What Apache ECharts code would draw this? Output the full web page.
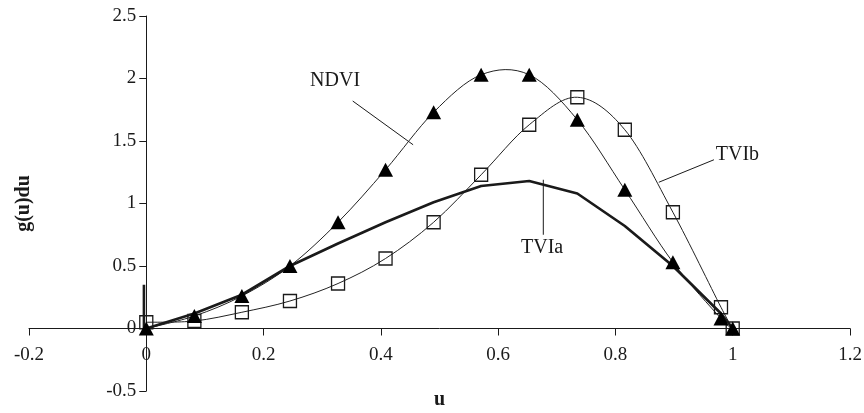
<!DOCTYPE html>
<html>
<head>
<meta charset="utf-8">
<script src="https://cdn.jsdelivr.net/npm/echarts@6/dist/echarts.min.js"></script>
<style>
  html, body { margin: 0; padding: 0; background: #fff; }
  #chart { width: 864px; height: 413px; }
</style>
</head>
<body>
<div id="chart"></div>
<script>
// u positions of the sample points
const uValues = [0, 0.082, 0.163, 0.245, 0.327, 0.408, 0.49, 0.571, 0.653, 0.735, 0.816, 0.898, 0.98, 1.0]

// g(u)du per index
const ndvi = [0, 0.1, 0.26, 0.5, 0.85, 1.27, 1.73, 2.03, 2.03, 1.67, 1.11, 0.53, 0.08, 0]
const tviB = [0.05, 0.06, 0.13, 0.22, 0.36, 0.56, 0.85, 1.23, 1.63, 1.85, 1.59, 0.93, 0.17, 0]
const tviA = [0, 0.12, 0.27, 0.5, 0.68, 0.85, 1.01, 1.14, 1.18, 1.08, 0.82, 0.5, 0.12, 0]
// short vertical stroke drawn at u = 0
const tviAStartU = [-0.004, -0.004]
const tviAStartV = [0.35, 0]

const xTicks = [-0.2, 0, 0.2, 0.4, 0.6, 0.8, 1, 1.2]
const yTicks = [-0.5, 0, 0.5, 1, 1.5, 2, 2.5]

const pair = (xs, ys) => xs.map((x, i) => [x, ys[i]])

const font = 'Liberation Serif, Times New Roman, serif'
const ink = '#1a1a1a'

// grid box; the axes cross at (0, 0) inside it
const gridLeft = 29, gridRight = 14, gridTop = 16, gridBottom = 22
const W = 864, H = 413
const xSpan = xTicks[xTicks.length - 1] - xTicks[0]
const ySpan = yTicks[yTicks.length - 1] - yTicks[0]
const yAxisShift = -(0 - xTicks[0]) / xSpan * (W - gridLeft - gridRight)
const xAxisShift = -(0 - yTicks[0]) / ySpan * (H - gridTop - gridBottom)

// excel-like smoothed curve: one cubic segment per point, catmull-rom control points
const smoothCurve = (xs, ys, color) => ({
  type: 'custom',
  data: pair(xs, ys),
  silent: true,
  z: 2,
  renderItem: (params, api) => {
    const i = params.dataIndex
    const n = xs.length
    if (i >= n - 1) return null
    const pt = k => {
      const j = Math.max(0, Math.min(n - 1, k))
      return api.coord([xs[j], ys[j]])
    }
    const p0 = pt(i - 1), p1 = pt(i), p2 = pt(i + 1), p3 = pt(i + 2)
    const t = 1 / 6
    return {
      type: 'bezierCurve',
      shape: {
        x1: p1[0], y1: p1[1], x2: p2[0], y2: p2[1],
        cpx1: p1[0] + (p2[0] - p0[0]) * t, cpy1: p1[1] + (p2[1] - p0[1]) * t,
        cpx2: p2[0] - (p3[0] - p1[0]) * t, cpy2: p2[1] - (p3[1] - p1[1]) * t
      },
      style: { stroke: color, lineWidth: 1, fill: null }
    }
  }
})

const chart = echarts.init(document.getElementById('chart'))

const option = {
  animation: false,
  grid: { left: gridLeft, right: gridRight, top: gridTop, bottom: gridBottom, outerBoundsMode: 'none' },
  xAxis: {
    type: 'value',
    min: xTicks[0],
    max: xTicks[xTicks.length - 1],
    interval: 0.2,
    position: 'bottom',
    offset: xAxisShift,
    name: 'u',
    nameLocation: 'middle',
    nameGap: 61,
    nameTextStyle: { fontFamily: font, fontWeight: 'bold', fontSize: 20, color: ink },
    axisLine: { onZero: false, lineStyle: { color: ink, width: 1 } },
    axisTick: { show: true, length: 7, lineStyle: { color: ink } },
    axisLabel: {
      fontFamily: font, fontSize: 19, color: ink, margin: 17,
      formatter: v => String(Math.round(v * 10) / 10)
    },
    splitLine: { show: false }
  },
  yAxis: {
    type: 'value',
    min: yTicks[0],
    max: yTicks[yTicks.length - 1],
    interval: 0.5,
    position: 'left',
    offset: yAxisShift,
    name: 'g(u)du',
    nameLocation: 'middle',
    nameGap: 112,
    nameRotate: 90,
    nameTextStyle: { fontFamily: font, fontWeight: 'bold', fontSize: 20, color: ink },
    axisLine: { onZero: false, lineStyle: { color: ink, width: 1 } },
    axisTick: { show: true, length: 7, lineStyle: { color: ink } },
    axisLabel: {
      fontFamily: font, fontSize: 19, color: ink, margin: 10,
      formatter: v => String(Math.round(v * 10) / 10)
    },
    splitLine: { show: false }
  },
  series: [
    {
      name: 'TVIa',
      type: 'line',
      data: pair(uValues, tviA),
      showSymbol: false,
      lineStyle: { color: ink, width: 2.7 },
      z: 3
    },
    {
      name: 'TVIa start',
      type: 'line',
      data: pair(tviAStartU, tviAStartV),
      showSymbol: false,
      lineStyle: { color: ink, width: 2.6 },
      z: 3
    },
    smoothCurve(uValues, tviB, '#222'),
    smoothCurve(uValues, ndvi, '#222'),
    {
      name: 'TVIb',
      type: 'line',
      data: pair(uValues, tviB),
      symbol: 'rect',
      symbolSize: 13,
      lineStyle: { width: 0 },
      itemStyle: { color: 'rgba(0,0,0,0)', borderColor: ink, borderWidth: 1.3 },
      z: 4
    },
    {
      name: 'NDVI',
      type: 'line',
      data: pair(uValues, ndvi),
      symbol: 'triangle',
      symbolSize: [15, 14],
      lineStyle: { width: 0 },
      itemStyle: { color: '#000' },
      z: 5
    }
  ]
}

chart.setOption(option)

// callouts in data coordinates: label position and leader line ends
const callouts = [
  { text: 'NDVI', at: [0.322, 1.98], from: [0.352, 1.82], to: [0.455, 1.47] },
  { text: 'TVIa', at: [0.675, 0.65], from: [0.677, 0.75], to: [0.677, 1.19] },
  { text: 'TVIb', at: [1.008, 1.39], from: [0.968, 1.35], to: [0.874, 1.17] }
]

const graphics = []
callouts.forEach(c => {
  const p = chart.convertToPixel({ gridIndex: 0 }, c.at)
  const a = chart.convertToPixel({ gridIndex: 0 }, c.from)
  const b = chart.convertToPixel({ gridIndex: 0 }, c.to)
  graphics.push({
    type: 'text',
    x: p[0], y: p[1],
    style: {
      text: c.text, fontFamily: font, fontSize: 20, fill: ink,
      align: 'center', verticalAlign: 'middle'
    }
  })
  graphics.push({
    type: 'line',
    shape: { x1: a[0], y1: a[1], x2: b[0], y2: b[1] },
    style: { stroke: ink, lineWidth: 1 }
  })
})
chart.setOption({ graphic: graphics })
</script>
</body>
</html>
